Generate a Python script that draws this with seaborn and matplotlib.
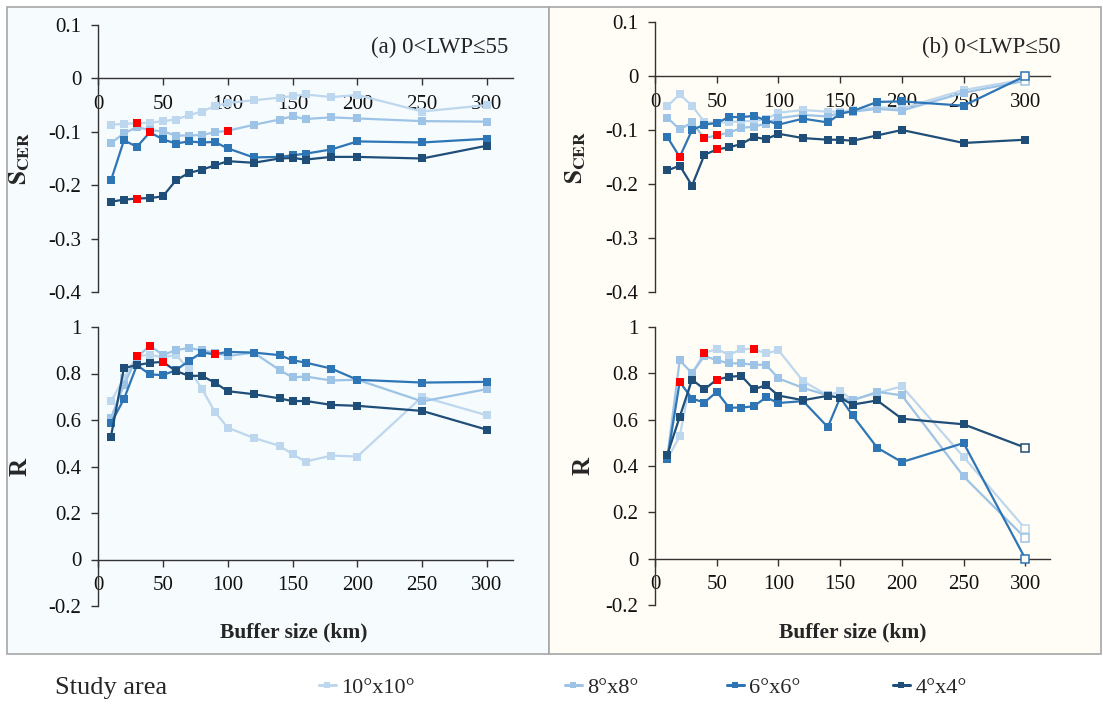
import matplotlib
matplotlib.use("Agg")
import pandas as pd
import matplotlib.pyplot as plt
from matplotlib.patches import Rectangle
from matplotlib.lines import Line2D
import seaborn as sns

# buffer sizes (km) shared by every series
buffer_km = [10, 20, 30, 40, 50, 60, 70, 80, 90, 100, 120, 140, 150, 160, 180, 200, 250, 300]
areas = ["10°x10°", "8°x8°", "6°x6°", "4°x4°"]
colors = ["#bdd7ee", "#9dc3e6", "#2e75b6", "#1f4e79"]

# (a) 0<LWP<=55, S_CER
scer_a_10 = [-0.087, -0.085, -0.084, -0.083, -0.080, -0.077, -0.069, -0.062, -0.052, -0.046,
             -0.041, -0.036, -0.033, -0.030, -0.035, -0.031, -0.062, -0.050]
scer_a_8 = [-0.121, -0.103, -0.091, -0.097, -0.099, -0.107, -0.107, -0.106, -0.101, -0.098,
            -0.087, -0.077, -0.071, -0.076, -0.073, -0.075, -0.080, -0.081]
scer_a_6 = [-0.191, -0.116, -0.128, -0.101, -0.114, -0.122, -0.118, -0.120, -0.119, -0.131,
            -0.148, -0.147, -0.144, -0.141, -0.133, -0.118, -0.120, -0.113]
scer_a_4 = [-0.231, -0.227, -0.225, -0.224, -0.221, -0.191, -0.177, -0.171, -0.163, -0.155,
            -0.158, -0.150, -0.149, -0.152, -0.147, -0.147, -0.150, -0.126]

# (a) R
r_a_10 = [0.68, 0.78, 0.875, 0.88, 0.87, 0.88, 0.82, 0.735, 0.636, 0.567,
          0.523, 0.489, 0.453, 0.421, 0.447, 0.443, 0.70, 0.62]
r_a_8 = [0.61, 0.75, 0.87, 0.92, 0.88, 0.90, 0.91, 0.90, 0.89, 0.875,
         0.89, 0.815, 0.783, 0.787, 0.77, 0.773, 0.68, 0.733]
r_a_6 = [0.586, 0.69, 0.836, 0.796, 0.793, 0.814, 0.854, 0.89, 0.883, 0.893,
         0.89, 0.879, 0.857, 0.847, 0.821, 0.773, 0.761, 0.764]
r_a_4 = [0.529, 0.824, 0.836, 0.846, 0.85, 0.811, 0.79, 0.79, 0.761, 0.724,
         0.711, 0.693, 0.681, 0.682, 0.665, 0.661, 0.639, 0.558]

# (b) 0<LWP<=50, S_CER
scer_b_10 = [-0.056, -0.034, -0.055, -0.085, -0.087, -0.085, -0.084, -0.083, -0.080, -0.068,
             -0.063, -0.066, -0.066, -0.063, -0.058, -0.060, -0.026, -0.006]
scer_b_8 = [-0.077, -0.099, -0.086, -0.115, -0.110, -0.105, -0.096, -0.094, -0.088, -0.078,
            -0.072, -0.075, -0.068, -0.066, -0.061, -0.064, -0.031, -0.009]
scer_b_6 = [-0.113, -0.150, -0.100, -0.090, -0.087, -0.076, -0.076, -0.074, -0.082, -0.090,
            -0.079, -0.086, -0.070, -0.065, -0.048, -0.047, -0.055, 0.0]
scer_b_4 = [-0.175, -0.166, -0.203, -0.146, -0.136, -0.132, -0.126, -0.113, -0.117, -0.107,
            -0.115, -0.118, -0.118, -0.120, -0.110, -0.100, -0.124, -0.118]

# (b) R
r_b_10 = [0.43, 0.528, 0.80, 0.888, 0.905, 0.879, 0.905, 0.905, 0.886, 0.90,
          0.766, 0.705, 0.722, 0.686, 0.715, 0.744, 0.439, 0.129]
r_b_8 = [0.44, 0.857, 0.80, 0.875, 0.857, 0.843, 0.843, 0.837, 0.837, 0.778,
         0.737, 0.705, 0.695, 0.683, 0.72, 0.705, 0.355, 0.089]
r_b_6 = [0.431, 0.763, 0.691, 0.674, 0.72, 0.652, 0.652, 0.658, 0.696, 0.672,
         0.68, 0.568, 0.695, 0.619, 0.479, 0.417, 0.499, 0.0]
r_b_4 = [0.449, 0.612, 0.773, 0.731, 0.773, 0.785, 0.789, 0.731, 0.749, 0.704,
         0.684, 0.703, 0.695, 0.665, 0.683, 0.604, 0.580, 0.479]

# points drawn in red, and points drawn as open squares
red_a_scer = {"10°x10°": [30], "4°x4°": [30], "6°x6°": [40], "8°x8°": [100]}
red_a_r = {"10°x10°": [30], "8°x8°": [40], "4°x4°": [50], "6°x6°": [90]}
red_b_scer = {"6°x6°": [20], "8°x8°": [40, 50], "4°x4°": [50]}
red_b_r = {"6°x6°": [20], "10°x10°": [40, 80], "4°x4°": [50]}
open_b_scer = {"10°x10°": [300], "8°x8°": [300], "6°x6°": [300]}
open_b_r = {"10°x10°": [300], "8°x8°": [300], "6°x6°": [300], "4°x4°": [300]}

bg_a = "#f6fbfd"
bg_b = "#fffdf5"

sns.set_theme(style="white")
plt.rcParams["font.family"] = ["Liberation Serif", "DejaVu Serif"]
plt.rcParams["mathtext.fontset"] = "stix"


def make_df(series):
    rows = []
    for area, vals in zip(areas, series):
        for b, v in zip(buffer_km, vals):
            rows.append(dict(area=area, buffer=b, value=v))
    return pd.DataFrame(rows)


def panel(ax, series, ylim, ystep, red, opened, bg, ylabel, xlabel=None):
    df = make_df(series)
    ax.set_facecolor("none")
    sns.lineplot(data=df, x="buffer", y="value", hue="area", hue_order=areas,
                 palette=colors, marker="s", markersize=5.5, markeredgewidth=0,
                 linewidth=1.6, estimator=None, legend=False, ax=ax)
    for area, col in zip(areas, colors):
        sub = df[df.area == area]
        pts = sub[sub.buffer.isin(opened.get(area, []))]
        ax.plot(pts.buffer, pts.value, ls="none", marker="s", markersize=5.5,
                mfc=bg, mec=col, mew=1.1, zorder=5)
    for area in areas:
        sub = df[df.area == area]
        pts = sub[sub.buffer.isin(red.get(area, []))]
        ax.plot(pts.buffer, pts.value, ls="none", marker="s", markersize=6.2,
                color="#ff0000", mew=0, zorder=6)
    ax.set_xlim(0, 320)
    ax.set_ylim(*ylim)
    ax.set_xticks(range(0, 301, 50))
    n = round((ylim[1] - ylim[0]) / ystep)
    ticks = [round(ylim[0] + i * ystep, 2) for i in range(n + 1)]
    ax.set_yticks(ticks)
    ax.set_yticklabels([f"{t:g}" for t in ticks])
    for s in ["top", "right"]:
        ax.spines[s].set_visible(False)
    ax.spines["bottom"].set_position(("data", 0))
    for s in ["left", "bottom"]:
        ax.spines[s].set_color("#333333")
        ax.spines[s].set_linewidth(1.0)
    ax.tick_params(axis="both", direction="out", length=5, width=1, color="#333333",
                   labelsize=15, labelcolor="#111111", bottom=True, left=True)
    ax.tick_params(axis="x", pad=7)
    ax.tick_params(axis="y", pad=7)
    ax.set_ylabel(ylabel, fontsize=18, fontweight="bold")
    if xlabel:
        ax.set_xlabel(xlabel, fontsize=15.5, fontweight="bold")
    else:
        ax.set_xlabel("")


fig = plt.figure(figsize=(11.03, 7.05), dpi=100)
fig.patches.append(Rectangle((7 / 1103, 1 - 654 / 705), 542 / 1103, 647 / 705,
                             transform=fig.transFigure, facecolor=bg_a,
                             edgecolor="#a6a6a6", lw=1.2, zorder=-1))
fig.patches.append(Rectangle((549 / 1103, 1 - 654 / 705), 552 / 1103, 647 / 705,
                             transform=fig.transFigure, facecolor=bg_b,
                             edgecolor="#a6a6a6", lw=1.2, zorder=-1))

ax_tl = fig.add_axes([98 / 1103, 1 - 292 / 705, 415 / 1103, 267 / 705])
ax_bl = fig.add_axes([98 / 1103, 1 - 606 / 705, 415 / 1103, 279 / 705])
ax_tr = fig.add_axes([655 / 1103, 1 - 292 / 705, 395 / 1103, 270 / 705])
ax_br = fig.add_axes([655 / 1103, 1 - 605 / 705, 395 / 1103, 278 / 705])

scer_label = r"$\mathbf{S}_{\mathbf{CER}}$"
panel(ax_tl, [scer_a_10, scer_a_8, scer_a_6, scer_a_4], (-0.4, 0.1), 0.1,
      red_a_scer, {}, bg_a, scer_label)
panel(ax_bl, [r_a_10, r_a_8, r_a_6, r_a_4], (-0.2, 1.0), 0.2,
      red_a_r, {}, bg_a, "R", "Buffer size (km)")
panel(ax_tr, [scer_b_10, scer_b_8, scer_b_6, scer_b_4], (-0.4, 0.1), 0.1,
      red_b_scer, open_b_scer, bg_b, scer_label)
panel(ax_br, [r_b_10, r_b_8, r_b_6, r_b_4], (-0.2, 1.0), 0.2,
      red_b_r, open_b_r, bg_b, "R", "Buffer size (km)")

ax_tl.yaxis.set_label_coords(-0.16, 0.5)
ax_bl.yaxis.set_label_coords(-0.16, 0.5)
ax_tr.yaxis.set_label_coords(-0.17, 0.5)
ax_br.yaxis.set_label_coords(-0.152, 0.5)
ax_bl.xaxis.set_label_coords(0.471, -0.058)
ax_br.xaxis.set_label_coords(0.5, -0.062)

fig.text(508 / 1103, 1 - 47 / 705, "(a) 0<LWP≤55", ha="right", va="center", fontsize=16.5)
fig.text(1060 / 1103, 1 - 47 / 705, "(b) 0<LWP≤50", ha="right", va="center", fontsize=16.5)

# legend row
fig.text(55 / 1103, 1 - 688 / 705, "Study area", ha="left", va="center", fontsize=19)
leg_x = [319, 565, 727, 893]
for area, col, x in zip(areas, colors, leg_x):
    h = Line2D([], [], color=col, lw=2.2, marker="s", markersize=4, mew=0)
    fig.legend(handles=[h], labels=[area], loc="center left",
               bbox_to_anchor=(x / 1103, 1 - 688 / 705), frameon=False,
               fontsize=16, handlelength=0.75, handletextpad=0.25,
               borderpad=0, borderaxespad=0)

fig.savefig("out.png", dpi=100)
